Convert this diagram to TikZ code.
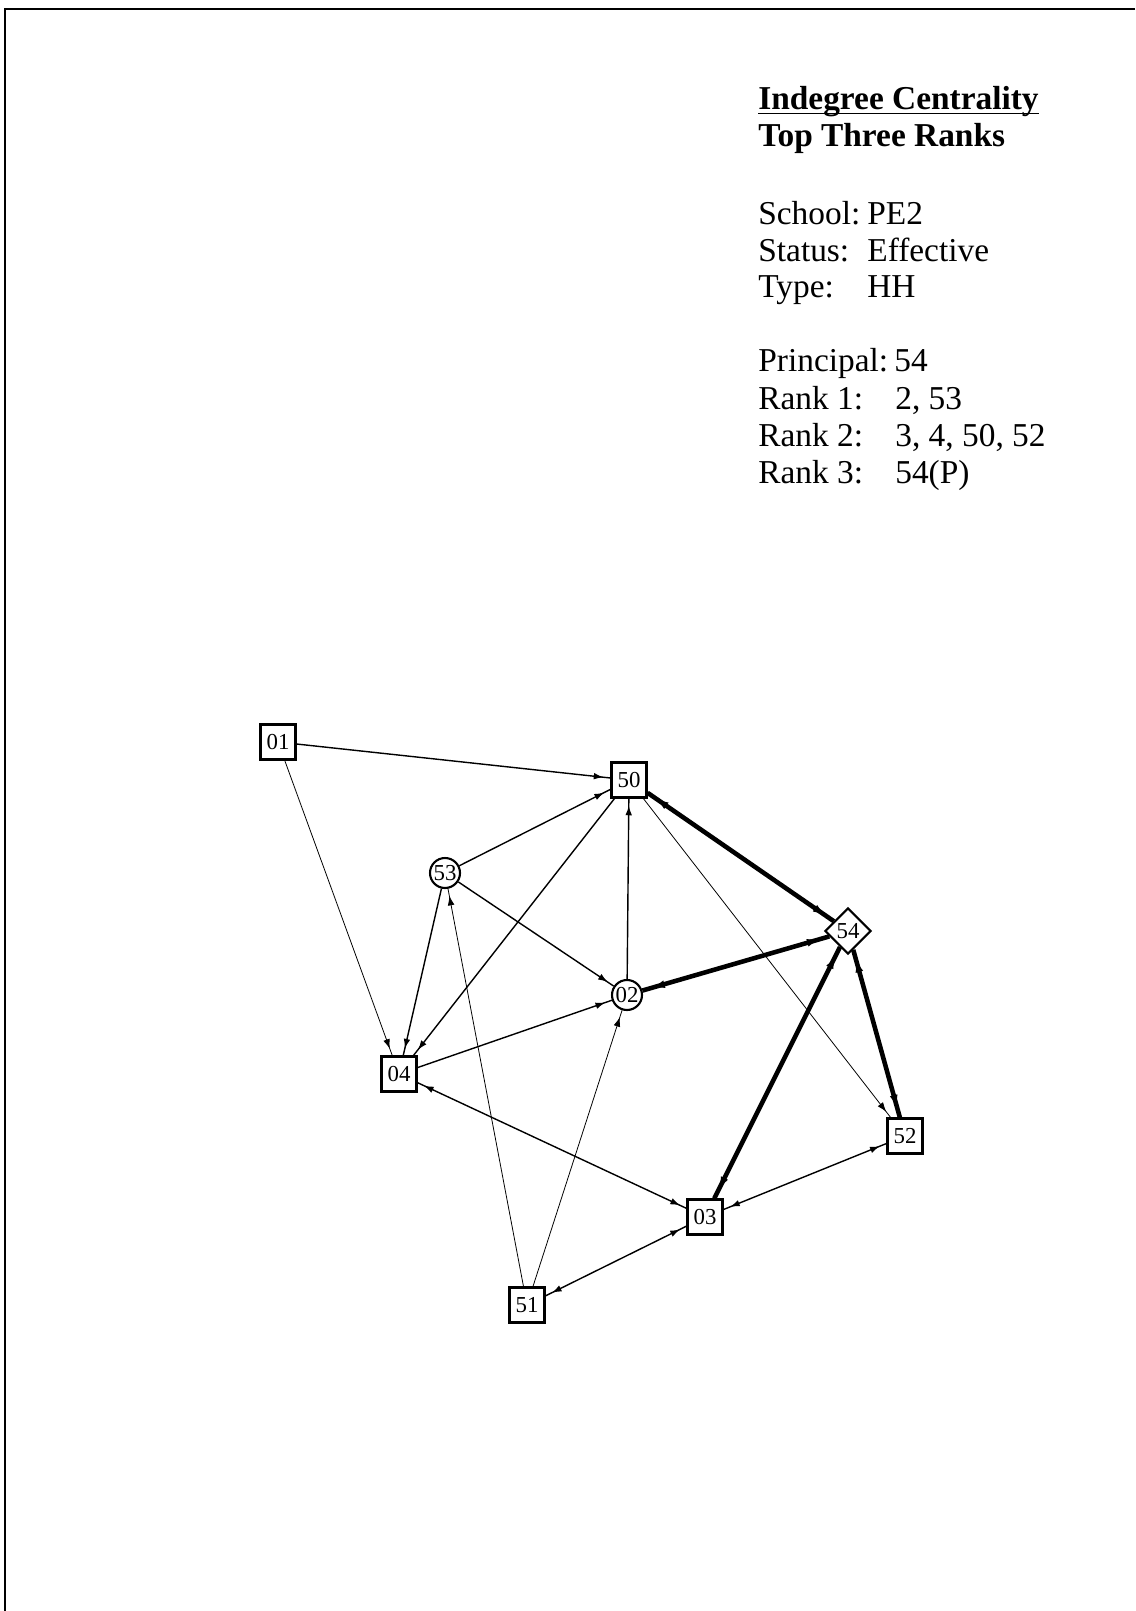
\documentclass[tikz,border=0pt]{standalone}
\usepackage{fontspec}
\setmainfont{Liberation Serif}
\usetikzlibrary{shapes.geometric,arrows.meta,decorations.markings}

\tikzset{
  actor/.style={draw,line width=1.2pt,inner sep=0pt,minimum size=0.7cm,fill=white,
    font=\fontsize{13}{14}\selectfont},
  peer/.style={actor,circle,minimum size=0.6cm},
  head/.style={actor,diamond,minimum size=0.92cm},
  info/.style={anchor=base west,inner sep=0pt,font=\fontsize{19}{21}\selectfont},
  tie/.style={line width=0.8pt},
  faint/.style={line width=0.45pt},
  strong/.style={line width=2.6pt},
  into/.style={postaction={decorate},decoration={markings,
    mark=at position -4pt with {\arrow{Latex[length=5.5pt,width=3.8pt]}}}},
  both/.style={postaction={decorate},decoration={markings,
    mark=at position -4pt with {\arrow{Latex[length=5.5pt,width=3.8pt]}},
    mark=at position 4pt with {\arrowreversed{Latex[length=5.5pt,width=3.8pt]}}}},
  bothbig/.style={postaction={decorate},decoration={markings,
    mark=at position -5pt with {\arrow{Latex[length=8pt,width=4.5pt]}},
    mark=at position 5pt with {\arrowreversed{Latex[length=8pt,width=4.5pt]}}}}
}

\begin{document}
\begin{tikzpicture}[x=0.02cm,y=-0.02cm]
\useasboundingbox (0,0) rectangle (1135,1611);
% page frame
\draw[line width=1.1pt] (1135,9) -- (5,9) -- (5,1611);

% legend
\node[info,font=\bfseries\fontsize{19}{21}\selectfont] (title) at (758,110) {Indegree Centrality};
\draw[line width=1.1pt] ([yshift=-2pt]title.base west) -- ([yshift=-2pt]title.base east);
\node[info,font=\bfseries\fontsize{19}{21}\selectfont] (subtitle) at (758,147) {Top Three Ranks};

\node[info] (school) at (758,225) {School:};
\node[info] (schoolv) at (867,225) {PE2};
\node[info] (status) at (758,262) {Status:};
\node[info] (statusv) at (867,262) {Effective};
\node[info] (type) at (758,298) {Type:};
\node[info] (typev) at (867,298) {HH};

\node[info] (princ) at (758,372) {Principal:};
\node[info] (princv) at (894,372) {54};
\node[info] (rone) at (758,409) {Rank 1:};
\node[info] (ronev) at (895,409) {2, 53};
\node[info] (rtwo) at (758,446) {Rank 2:};
\node[info] (rtwov) at (895,446) {3, 4, 50, 52};
\node[info] (rthree) at (758,483) {Rank 3:};
\node[info] (rthreev) at (895,483) {54(P)};

% actors
\node[actor] (n01) at (278,742) {01};
\node[actor] (n50) at (629,780) {50};
\node[peer] (n53) at (445,873) {53};
\node[peer] (n02) at (627,995) {02};
\node[actor] (n04) at (399,1074) {04};
\node[head] (n54) at (848,931) {54};
\node[actor] (n52) at (905,1136) {52};
\node[actor] (n03) at (705,1217) {03};
\node[actor] (n51) at (527,1305) {51};

% ties
\begin{scope}[on background layer/.try]
\draw[tie,into] (n01) -- (n50);
\draw[faint,into] (n01) -- (n04);
\draw[tie,into] (n53) -- (n50);
\draw[tie,into] (n50) -- (n04);
\draw[tie,into] (n02) -- (n50);
\draw[faint,into] (n50) -- (n52);
\draw[tie,into] (n53) -- (n02);
\draw[tie,into] (n53) -- (n04);
\draw[faint,into] (n51) -- (n53);
\draw[tie,into] (n04) -- (n02);
\draw[faint,into] (n51) -- (n02);
\draw[tie,both] (n04) -- (n03);
\draw[tie,both] (n03) -- (n52);
\draw[tie,both] (n51) -- (n03);

\draw[strong,bothbig] (n50) -- (n54);
\draw[strong,bothbig] (n02) -- (n54);
\draw[strong,bothbig] (n03) -- (n54);
\draw[strong,bothbig] (n54) -- (n52);
\end{scope}
\end{tikzpicture}
\end{document}
